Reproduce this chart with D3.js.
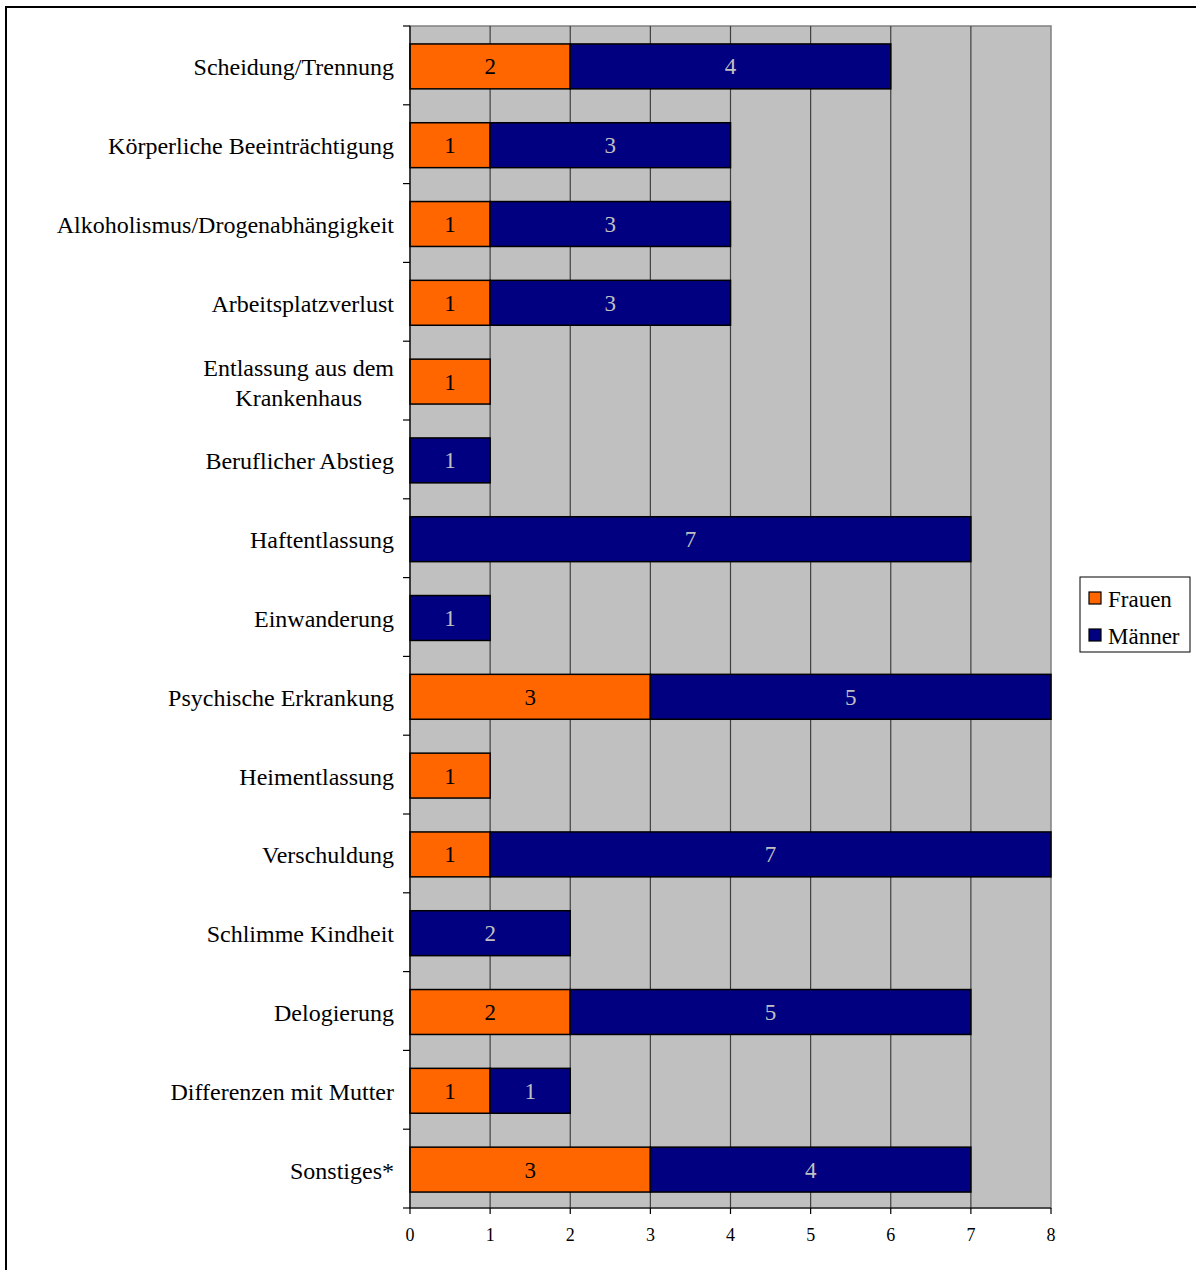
<!DOCTYPE html>
<html><head><meta charset="utf-8">
<script src="https://cdn.jsdelivr.net/npm/d3@7"></script>
<style>body{margin:0;background:#fff}svg{display:block}text{font-family:"Liberation Serif","Times New Roman",serif}</style>
</head><body>
<svg id="c" width="1196" height="1270"></svg>
<script>
const categories = ["Scheidung/Trennung","Körperliche Beeinträchtigung","Alkoholismus/Drogenabhängigkeit","Arbeitsplatzverlust","Entlassung aus dem|Krankenhaus","Beruflicher Abstieg","Haftentlassung","Einwanderung","Psychische Erkrankung","Heimentlassung","Verschuldung","Schlimme Kindheit","Delogierung","Differenzen mit Mutter","Sonstiges*"];
const frauen = [2,1,1,1,1,0,0,0,3,1,1,0,2,1,3];
const maenner = [4,3,3,3,0,1,7,1,5,0,7,2,5,1,4];
const seriesNames = ["Frauen","Männer"];
const xTicks = [0,1,2,3,4,5,6,7,8];

const svg = d3.select("#c");
const L = 410, R = 1051, T = 26, B = 1208;
const x = d3.scaleLinear().domain([0,8]).range([L,R]);
const y = d3.scaleBand().domain(categories).range([T,B]).paddingInner(0.43).paddingOuter(0.215);
const yb = d3.scaleBand().domain(categories).range([T,B]);

// outer border
svg.append("rect").attr("x",6).attr("y",7).attr("width",1200).attr("height",1280)
  .attr("fill","none").attr("stroke","#000").attr("stroke-width",2);

// plot area
svg.append("rect").attr("x",L).attr("y",T).attr("width",R-L).attr("height",B-T)
  .attr("fill","#C0C0C0").attr("stroke","#808080").attr("stroke-width",1.5);

// gridlines
svg.append("g").selectAll("line").data(xTicks.slice(1,-1)).join("line")
  .attr("x1",d=>x(d)).attr("x2",d=>x(d)).attr("y1",T).attr("y2",B)
  .attr("stroke","#404040").attr("stroke-width",1.2);

// stacked bars
const rows = categories.map((c,i)=>({c, f:frauen[i], m:maenner[i]}));
const segs = [];
rows.forEach(r=>{
  if (r.f>0) segs.push({c:r.c,x0:0,x1:r.f,v:r.f,s:0});
  if (r.m>0) segs.push({c:r.c,x0:r.f,x1:r.f+r.m,v:r.m,s:1});
});
const colors = ["#FF6600","#000080"];
const textColors = ["#000","#C0C0C0"];
svg.append("g").selectAll("rect").data(segs).join("rect")
  .attr("x",d=>x(d.x0)).attr("width",d=>x(d.x1)-x(d.x0))
  .attr("y",d=>y(d.c)+1).attr("height",y.bandwidth())
  .attr("fill",d=>colors[d.s]).attr("stroke","#000").attr("stroke-width",1.5);
svg.append("g").selectAll("text").data(segs).join("text")
  .attr("x",d=>(x(d.x0)+x(d.x1))/2).attr("y",d=>y(d.c)+1+y.bandwidth()/2+8)
  .attr("text-anchor","middle").attr("font-size",23).attr("fill",d=>textColors[d.s])
  .text(d=>d.v);

// left axis
const gy = svg.append("g");
gy.append("line").attr("x1",L).attr("x2",L).attr("y1",T).attr("y2",B).attr("stroke","#000").attr("stroke-width",1.2);
const bounds = categories.map(c=>yb(c)).concat([B]);
gy.selectAll("line.t").data(bounds).join("line").attr("class","t")
  .attr("x1",L-7).attr("x2",L).attr("y1",d=>d).attr("y2",d=>d).attr("stroke","#000").attr("stroke-width",1.2);

// category labels
const labX = 394;
categories.forEach(c=>{
  const lines = c.split("|");
  const cy = yb(c)+yb.bandwidth()/2;
  const g = svg.append("g");
  const lh = 30;
  const ts = lines.map((ln,k)=>g.append("text").attr("font-size",24)
    .attr("y", cy + 10 + (k-(lines.length-1)/2)*lh).text(ln));
  const w = Math.max(...ts.map(t=>t.node().getComputedTextLength()));
  ts.forEach(t=>t.attr("text-anchor","middle").attr("x", labX - w/2));
});

// bottom axis
const gx = svg.append("g");
gx.append("line").attr("x1",L).attr("x2",R).attr("y1",B).attr("y2",B).attr("stroke","#000").attr("stroke-width",1.2);
gx.selectAll("line.t").data(xTicks).join("line").attr("class","t")
  .attr("x1",d=>x(d)).attr("x2",d=>x(d)).attr("y1",B).attr("y2",B+6).attr("stroke","#000").attr("stroke-width",1.2);
gx.selectAll("text").data(xTicks).join("text")
  .attr("x",d=>x(d)).attr("y",B+33).attr("text-anchor","middle").attr("font-size",18).text(d=>d);

// legend
const lg = svg.append("g");
lg.append("rect").attr("x",1080).attr("y",577).attr("width",110).attr("height",75)
  .attr("fill","#fff").attr("stroke","#000").attr("stroke-width",1);
seriesNames.forEach((n,i)=>{
  const yy = 592 + i*37;
  lg.append("rect").attr("x",1089).attr("y",yy).attr("width",12).attr("height",12)
    .attr("fill",colors[i]).attr("stroke","#000").attr("stroke-width",1.2);
  lg.append("text").attr("x",1108).attr("y",yy+15).attr("font-size",23).text(n);
});
</script>
</body></html>
